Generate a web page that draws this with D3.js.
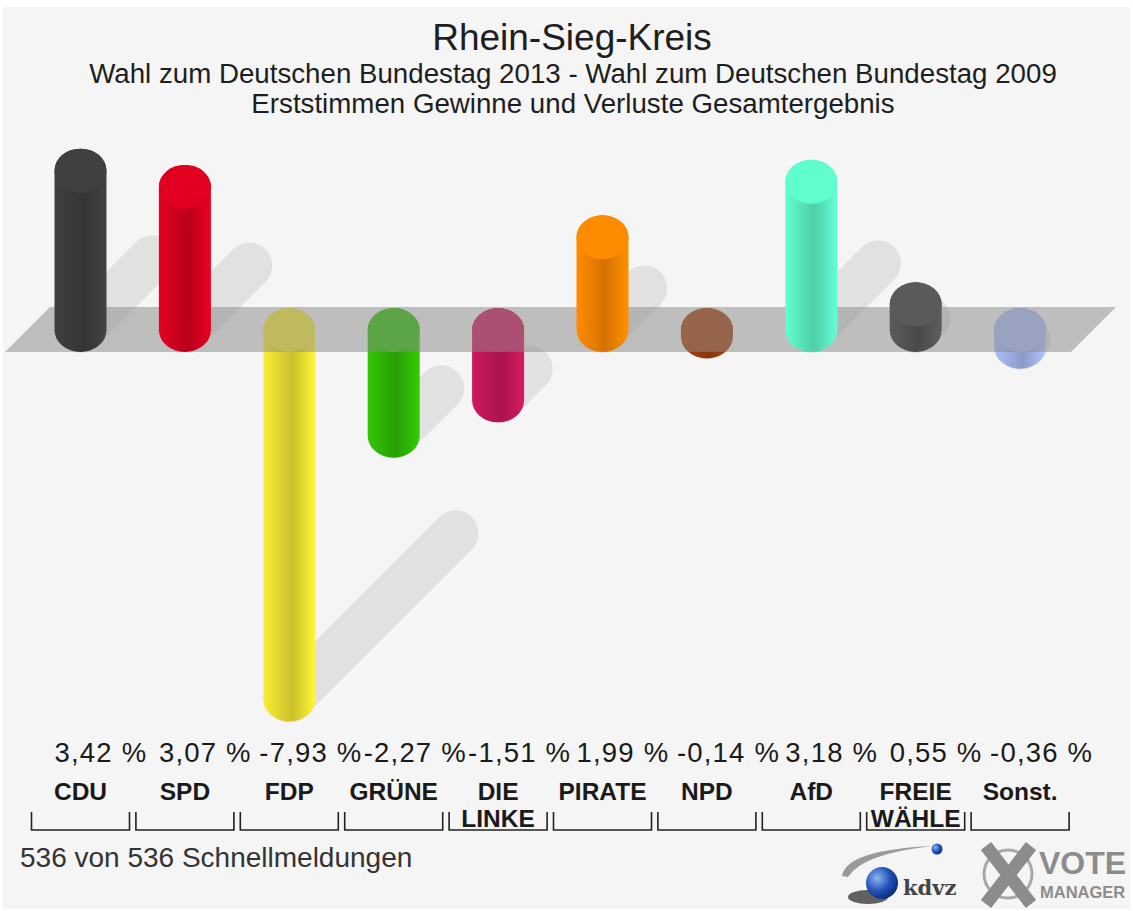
<!DOCTYPE html>
<html>
<head>
<meta charset="utf-8">
<script src="https://cdn.jsdelivr.net/npm/d3@7"></script>
<style>
  body { margin: 0; background: #fff; }
  svg { display: block; font-family: "Liberation Sans", Arial, sans-serif; }
</style>
</head>
<body>
<div id="chart"></div>
<script>
// chart data
const parties = ['CDU', 'SPD', 'FDP', 'GRÜNE', 'DIE LINKE', 'PIRATE', 'NPD', 'AfD', 'FREIE WÄHLE', 'Sonst.'];
const labelLines = [['CDU'], ['SPD'], ['FDP'], ['GRÜNE'], ['DIE', 'LINKE'], ['PIRATE'], ['NPD'], ['AfD'], ['FREIE', 'WÄHLE'], ['Sonst.']];
const values = [3.42, 3.07, -7.93, -2.27, -1.51, 1.99, -0.14, 3.18, 0.55, -0.36];
const colors = ['#3d3d3d', '#d8001f', '#eee232', '#2fbb05', '#c5185a', '#fb8500', '#a03e10', '#5cf2c4', '#565656', '#a4b4ec'];

const titleLines = [
  'Rhein-Sieg-Kreis',
  'Wahl zum Deutschen Bundestag 2013 - Wahl zum Deutschen Bundestag 2009',
  'Erststimmen Gewinne und Verluste Gesamtergebnis'
];
const footer = '536 von 536 Schnellmeldungen';

const width = 1133;
const height = 911;
const barW = 52;
const capRy = 22;

const svg = d3.select('#chart').append('svg')
  .attr('width', width)
  .attr('height', height);

const defs = svg.append('defs');

// panel background
svg.append('rect')
  .attr('x', 3).attr('y', 7)
  .attr('width', 1127).attr('height', 902)
  .attr('fill', '#f5f5f5');

// titles
svg.append('text')
  .attr('x', 572).attr('y', 50)
  .attr('text-anchor', 'middle')
  .attr('font-size', 37)
  .attr('fill', '#1e1e1e')
  .text(titleLines[0]);

svg.selectAll('text.sub')
  .data(titleLines.slice(1))
  .enter().append('text')
  .attr('class', 'sub')
  .attr('x', 573)
  .attr('y', (d, i) => 83 + i * 30)
  .attr('text-anchor', 'middle')
  .attr('font-size', 27.7)
  .attr('fill', '#1e1e1e')
  .text(d => d);

// scales
const x = d3.scaleBand()
  .domain(parties)
  .range([28.3, 1072.3]);

const y = d3.scaleLinear()
  .domain([-8, 4])
  .range([330 + 8 * 46.6, 330 - 4 * 46.6]);

const y0 = y(0);
const cx = (d) => x(d) + x.bandwidth() / 2;

const data = parties.map((p, i) => ({
  party: p,
  value: values[i],
  color: colors[i],
  lines: labelLines[i],
  id: 'g' + i
}));

// cylinder shading
data.forEach(d => {
  const c = d3.color(d.color);
  const g = defs.append('linearGradient')
    .attr('id', d.id)
    .attr('x1', '0%').attr('x2', '100%')
    .attr('y1', '0%').attr('y2', '0%');
  g.append('stop').attr('offset', '0%').attr('stop-color', c.brighter(0.15));
  g.append('stop').attr('offset', '55%').attr('stop-color', c.darker(0.45));
  g.append('stop').attr('offset', '100%').attr('stop-color', c.brighter(0.25));
});

// shadows
const shadowLine = d3.line();
svg.append('g').selectAll('path')
  .data(data)
  .enter().append('path')
  .attr('d', d => {
    const c = cx(d.party);
    const yLow = Math.max(y(d.value), y0);
    const len = Math.abs(y(d.value) - y0) * 0.45;
    return shadowLine([[c, yLow], [c + len, yLow - len]]);
  })
  .attr('fill', 'none')
  .attr('stroke', '#000')
  .attr('stroke-opacity', 0.08)
  .attr('stroke-width', 46)
  .attr('stroke-linecap', 'round');

const cylinder = (d) => {
  const c = cx(d.party);
  const l = c - barW / 2;
  const r = c + barW / 2;
  const yTop = Math.min(y(d.value), y0);
  const yBot = Math.max(y(d.value), y0);
  return `M${l},${yTop}L${l},${yBot}A${barW / 2},${capRy} 0 0 0 ${r},${yBot}` +
    `L${r},${yTop}A${barW / 2},${capRy} 0 0 0 ${l},${yTop}Z`;
};

const drawBars = (sel) => {
  const g = sel.append('g');
  g.append('path')
    .attr('d', cylinder)
    .attr('fill', d => `url(#${d.id})`);
  g.append('ellipse')
    .attr('cx', d => cx(d.party))
    .attr('cy', d => Math.min(y(d.value), y0))
    .attr('rx', barW / 2)
    .attr('ry', capRy)
    .attr('fill', d => d3.color(d.color).brighter(0.12));
};

// bars below zero sit under the floor band
svg.append('g').selectAll('g')
  .data(data.filter(d => d.value < 0))
  .enter().call(drawBars);

// floor band
svg.append('path')
  .attr('d', 'M5,352L1071,352L1116,307L50,307Z')
  .attr('fill', '#888')
  .attr('fill-opacity', 0.5);

svg.append('g').selectAll('g')
  .data(data.filter(d => d.value >= 0))
  .enter().call(drawBars);

// value labels
const fmt = (v) => v.toFixed(2).replace('.', ',') + ' %';
svg.append('g').selectAll('text')
  .data(data)
  .enter().append('text')
  .attr('x', d => cx(d.party) - barW / 2 - (d.value < 0 ? 4 : 0))
  .attr('y', 762)
  .attr('font-size', 27.5)
  .attr('letter-spacing', 1.2)
  .attr('fill', '#1a1a1a')
  .text(d => fmt(d.value));

// party names
const names = svg.append('g').selectAll('text')
  .data(data)
  .enter().append('text')
  .attr('text-anchor', 'middle')
  .attr('font-size', 24.5)
  .attr('font-weight', 'bold')
  .attr('fill', '#1a1a1a');

names.selectAll('tspan')
  .data(d => d.lines.map((t, i) => ({ t, i, c: cx(d.party) })))
  .enter().append('tspan')
  .attr('x', d => d.c)
  .attr('y', d => 800 + d.i * 27)
  .text(d => d.t);

// brackets under each party
svg.append('g').selectAll('path')
  .data(data)
  .enter().append('path')
  .attr('d', d => {
    const c = cx(d.party);
    return `M${c - 49},812V830H${c + 49}V812`;
  })
  .attr('fill', 'none')
  .attr('stroke', '#222')
  .attr('stroke-width', 1.6);

svg.append('text')
  .attr('x', 20).attr('y', 867)
  .attr('font-size', 28)
  .attr('fill', '#333')
  .text(footer);

// logos (kdvz + VOTE MANAGER)
const logo = svg.append('g');
const ball = defs.append('radialGradient')
  .attr('id', 'ball')
  .attr('cx', '35%').attr('cy', '35%').attr('r', '70%');
ball.append('stop').attr('offset', '0%').attr('stop-color', '#8fb4f0');
ball.append('stop').attr('offset', '60%').attr('stop-color', '#1f4fb5');
ball.append('stop').attr('offset', '100%').attr('stop-color', '#0c2a78');

logo.append('path')
  .attr('d', 'M842,876Q846,850 932,846Q862,854 848,877Z')
  .attr('fill', '#9a9a9a');
logo.append('ellipse')
  .attr('cx', 868).attr('cy', 897).attr('rx', 20).attr('ry', 7)
  .attr('fill', '#222').attr('fill-opacity', 0.7);
logo.append('circle')
  .attr('cx', 882).attr('cy', 883).attr('r', 16)
  .attr('fill', 'url(#ball)');
logo.append('circle')
  .attr('cx', 937).attr('cy', 849).attr('r', 5.5)
  .attr('fill', 'url(#ball)');
logo.append('text')
  .attr('x', 903).attr('y', 895)
  .attr('font-family', '"DejaVu Serif", serif')
  .attr('font-weight', 'bold')
  .attr('font-size', 21)
  .attr('fill', '#444')
  .text('kdvz');

logo.append('circle')
  .attr('cx', 1008).attr('cy', 874).attr('r', 24)
  .attr('fill', 'none')
  .attr('stroke', '#a8a8a8')
  .attr('stroke-width', 3);
logo.append('path')
  .attr('d', 'M986,846L1031,904M1031,846L986,904')
  .attr('stroke', '#8c8c8c')
  .attr('stroke-width', 13);
logo.append('text')
  .attr('x', 1039).attr('y', 874)
  .attr('font-weight', 'bold')
  .attr('font-size', 32)
  .attr('fill', '#8c8c8c')
  .text('VOTE');
logo.append('text')
  .attr('x', 1040).attr('y', 898)
  .attr('font-weight', 'bold')
  .attr('font-size', 16.5)
  .attr('fill', '#8c8c8c')
  .text('MANAGER');
</script>
</body>
</html>
